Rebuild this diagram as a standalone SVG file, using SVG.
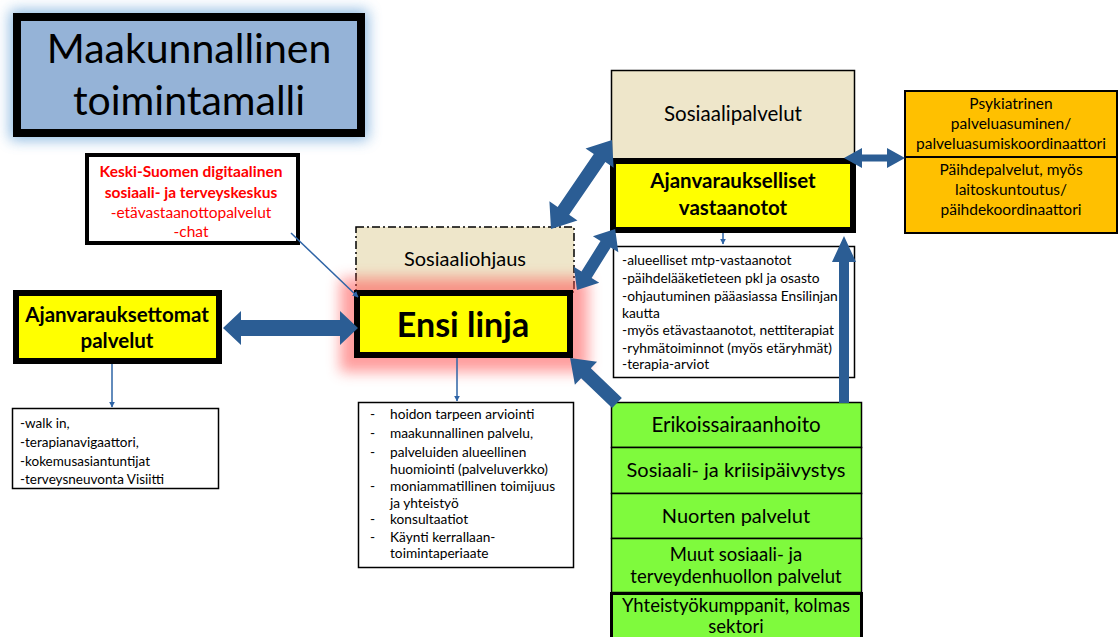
<svg xmlns="http://www.w3.org/2000/svg" width="1119" height="637" viewBox="0 0 1119 637">
<defs>
<style>
text{font-family:Lato,"Liberation Sans",sans-serif;fill:#000}
.c{text-anchor:middle}
.b{font-weight:bold}
.red{fill:#FF0000}
.thick{stroke:#000;stroke-width:6}
.thin{stroke:#000;stroke-width:1.5}
.big{fill:#2B5D94}
.ln{stroke:#2E64A6;stroke-width:1.5;fill:none;marker-end:url(#ah)}
.lst{font-size:13.7px}
</style>
<marker id="ah" viewBox="0 0 10 10" refX="9" refY="5" markerWidth="6" markerHeight="6" orient="auto" markerUnits="userSpaceOnUse">
<path d="M0,0 L10,5 L0,10 Z" fill="#2E64A6"/>
</marker>
<filter id="blur" x="-30%" y="-50%" width="160%" height="200%"><feGaussianBlur stdDeviation="7"/></filter>
</defs>

<g id="title">
<rect x="10" y="10" width="358" height="130" fill="#5B9BD5" opacity="0.7" filter="url(#blur)"/>
<rect x="17" y="17" width="344" height="116" fill="#95B3D7" stroke="#000" stroke-width="8"/>
<text x="189" y="63" class="c" font-size="41">Maakunnallinen</text>
<text x="189" y="115" class="c" font-size="41">toimintamalli</text>
</g>

<g id="keski-suomen">
<rect x="87" y="155" width="211" height="88" fill="#fff" stroke="#000" stroke-width="4"/>
<text x="191" y="177" class="c b red" font-size="15.5">Keski-Suomen digitaalinen</text>
<text x="191" y="198" class="c b red" font-size="15.5">sosiaali- ja terveyskeskus</text>
<text x="191" y="218" class="c red" font-size="15.5">-etävastaanottopalvelut</text>
<text x="191" y="237" class="c red" font-size="15.5">-chat</text>
</g>

<g id="ajanvarauksettomat">
<rect x="16" y="293" width="203" height="68" fill="#FFFF00" class="thick"/>
<text x="117" y="322" class="c b" font-size="20.5">Ajanvarauksettomat</text>
<text x="117" y="348" class="c b" font-size="20.5">palvelut</text>
</g>

<g id="walkin">
<rect x="12.5" y="408.5" width="206" height="80" fill="#fff" class="thin"/>
<text x="20" y="428" font-size="13.5">-walk in,</text>
<text x="20" y="447" font-size="13.5">-terapianavigaattori,</text>
<text x="20" y="466" font-size="13.5">-kokemusasiantuntijat</text>
<text x="20" y="484" font-size="13.5">-terveysneuvonta Visiitti</text>
</g>

<g id="sosiaaliohjaus">
<rect x="356" y="227" width="218" height="65" fill="#EEE6CA" stroke="#000" stroke-width="1.5" stroke-dasharray="8 3 2 3"/>
<text x="465" y="266" class="c" font-size="20" fill="#262626">Sosiaaliohjaus</text>
</g>

<g id="ensi-linja">
<rect x="340" y="278" width="248" height="94" fill="#FF5050" opacity="0.55" filter="url(#blur)"/>
<rect x="357" y="293" width="213" height="62" fill="#FFFF00" class="thick"/>
<text x="463" y="337" class="c b" font-size="34">Ensi linja</text>
</g>

<g id="ensi-lista">
<rect x="358.5" y="402.5" width="215" height="165" fill="#fff" class="thin"/>
<g class="lst">
<text x="370" y="419">-</text><text x="390" y="419">hoidon tarpeen arviointi</text>
<text x="370" y="438">-</text><text x="390" y="438">maakunnallinen palvelu,</text>
<text x="370" y="457">-</text><text x="390" y="457">palveluiden alueellinen</text>
<text x="390" y="474">huomiointi (palveluverkko)</text>
<text x="370" y="491">-</text><text x="390" y="491">moniammatillinen toimijuus</text>
<text x="390" y="508">ja yhteistyö</text>
<text x="370" y="524">-</text><text x="390" y="524">konsultaatiot</text>
<text x="370" y="542">-</text><text x="390" y="542">Käynti kerrallaan-</text>
<text x="390" y="558">toimintaperiaate</text>
</g>
</g>

<g id="sosiaalipalvelut">
<rect x="611.5" y="70.5" width="243" height="90" fill="#EEE6CA" stroke="#000" stroke-width="1.5"/>
<text x="733" y="121" class="c" font-size="20.5" fill="#262626">Sosiaalipalvelut</text>
</g>

<g id="ajanvaraukselliset">
<rect x="613" y="161" width="240" height="69" fill="#FFFF00" class="thick"/>
<text x="733" y="188" class="c b" font-size="20.5">Ajanvaraukselliset</text>
<text x="733" y="215" class="c b" font-size="20.5">vastaanotot</text>
</g>

<g id="ajanvaraukselliset-lista">
<rect x="613.5" y="246.5" width="241" height="131" fill="#fff" class="thin"/>
<g font-size="13.8">
<text x="622" y="265">-alueelliset mtp-vastaanotot</text>
<text x="622" y="283">-päihdelääketieteen pkl ja osasto</text>
<text x="622" y="301">-ohjautuminen pääasiassa Ensilinjan</text>
<text x="622" y="318">kautta</text>
<text x="622" y="335">-myös etävastaanotot, nettiterapiat</text>
<text x="622" y="353">-ryhmätoiminnot (myös etäryhmät)</text>
<text x="622" y="369">-terapia-arviot</text>
</g>
</g>

<g id="psykiatrinen">
<rect x="905" y="91" width="212" height="66" fill="#FFC000" stroke="#000" stroke-width="2"/>
<text x="1011" y="109" class="c" font-size="15.5">Psykiatrinen</text>
<text x="1011" y="129" class="c" font-size="15.5">palveluasuminen/</text>
<text x="1011" y="149" class="c" font-size="15.5">palveluasumiskoordinaattori</text>
</g>
<g id="paihdepalvelut">
<rect x="905" y="157" width="212" height="76" fill="#FFC000" stroke="#000" stroke-width="2"/>
<text x="1011" y="175" class="c" font-size="15.5">Päihdepalvelut, myös</text>
<text x="1011" y="195" class="c" font-size="15.5">laitoskuntoutus/</text>
<text x="1011" y="215" class="c" font-size="15.5">päihdekoordinaattori</text>
</g>

<g id="erikoissairaanhoito">
<rect x="611.5" y="402.5" width="250" height="45" fill="#7FFA3D" class="thin"/>
<text x="736" y="432" class="c" font-size="20.5">Erikoissairaanhoito</text>
</g>
<g id="kriisipaivystys">
<rect x="611.5" y="447.5" width="250" height="46" fill="#7FFA3D" class="thin"/>
<text x="736" y="477" class="c" font-size="20">Sosiaali- ja kriisipäivystys</text>
</g>
<g id="nuorten">
<rect x="611.5" y="493.5" width="250" height="45" fill="#7FFA3D" class="thin"/>
<text x="736" y="523" class="c" font-size="20">Nuorten palvelut</text>
</g>
<g id="muut">
<rect x="611.5" y="538.5" width="250" height="54" fill="#7FFA3D" class="thin"/>
<text x="736" y="561" class="c" font-size="18.5">Muut sosiaali- ja</text>
<text x="736" y="583" class="c" font-size="18.5">terveydenhuollon palvelut</text>
</g>
<g id="yhteistyo">
<rect x="611.5" y="593.5" width="250" height="50" fill="#7FFA3D" stroke="#000" stroke-width="3"/>
<text x="736" y="612" class="c" font-size="18.5">Yhteistyökumppanit, kolmas</text>
<text x="736" y="633" class="c" font-size="18.5">sektori</text>
</g>

<g id="connectors">
<path class="big" transform="translate(223,328)" d="M0,0 L18,-17 L18,-8 L117,-8 L117,-17 L135,0 L117,17 L117,8 L18,8 L18,17 Z"/>
<path class="big" transform="translate(551,229) rotate(-55.6)" d="M0,0 L22,-17 L22,-7 L86,-7 L86,-17 L108,0 L86,17 L86,7 L22,7 L22,17 Z"/>
<path class="big" transform="translate(577,290) rotate(-58)" d="M0,0 L18,-15 L18,-6 L54,-6 L54,-15 L72,0 L54,15 L54,6 L18,6 L18,15 Z"/>
<path class="big" transform="translate(844,158)" d="M0,0 L18,-10 L18,-3.5 L43,-3.5 L43,-10 L61,0 L43,10 L43,3.5 L18,3.5 L18,10 Z"/>
<path class="big" transform="translate(617,403) rotate(223.8)" d="M0,-7 L43,-7 L43,-16 L65,0 L43,16 L43,7 L0,7 Z"/>
<path class="big" transform="translate(844,403) rotate(-90)" d="M0,-5 L141,-5 L141,-12 L167,0 L141,12 L141,5 L0,5 Z"/>
<line class="ln" x1="291" y1="233" x2="358" y2="297"/>
<line class="ln" x1="112" y1="364" x2="112" y2="407"/>
<line class="ln" x1="457" y1="358" x2="457" y2="401"/>
<line class="ln" x1="723" y1="233" x2="723" y2="244"/>
</g>
</svg>
